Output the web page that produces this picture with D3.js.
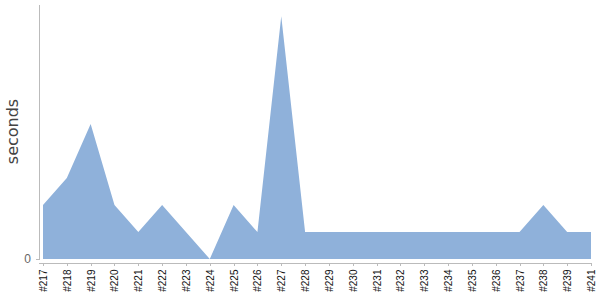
<!DOCTYPE html>
<html>
<head>
<meta charset="utf-8">
<script src="https://cdn.jsdelivr.net/npm/d3@7"></script>
<style>
  body { margin: 0; background: #fff; }
  svg { display: block; font-family: "DejaVu Sans", sans-serif; }
  .axis path, .axis line { stroke: #bbb; shape-rendering: crispEdges; }
</style>
</head>
<body>
<div class="chart"></div>
<script>
const builds = ["#217", "#218", "#219", "#220", "#221", "#222", "#223", "#224",
  "#225", "#226", "#227", "#228", "#229", "#230", "#231", "#232", "#233",
  "#234", "#235", "#236", "#237", "#238", "#239", "#241"];
const seconds = [2, 3, 5, 2, 1, 2, 1, 0, 2, 1, 9, 1, 1, 1, 1, 1, 1, 1, 1, 1, 1, 2, 1, 1];
const yTicks = [0];

const width = 600, height = 300;
const plotLeft = 39, plotRight = 591, plotTop = 4, plotBottom = 259;

const data = builds.map((b, i) => ({ build: b, value: seconds[i] }));

const svg = d3.select(".chart").append("svg")
  .attr("width", width)
  .attr("height", height);

const x = d3.scalePoint()
  .domain(builds)
  .range([plotLeft + 4, plotRight]);

const y = d3.scaleLinear()
  .domain([0, d3.max(seconds) * 1.05])
  .range([plotBottom, plotTop]);

const area = d3.area()
  .x(d => x(d.build))
  .y0(y(0))
  .y1(d => y(d.value));

svg.append("path")
  .datum(data)
  .attr("fill", "#8fb1da")
  .attr("d", area);

// y axis
const yAxis = svg.append("g")
  .attr("class", "axis")
  .attr("transform", "translate(" + plotLeft + ",0)")
  .call(d3.axisLeft(y).tickValues(yTicks).tickSize(3).tickSizeOuter(0).tickPadding(5));
yAxis.selectAll("text")
  .attr("fill", "#666")
  .style("font-size", "12px");

// x axis, sits a few px under the baseline
const xAxis = svg.append("g")
  .attr("class", "axis")
  .attr("transform", "translate(0," + (plotBottom + 4) + ")")
  .call(d3.axisBottom(x).tickSize(3).tickSizeOuter(0));
xAxis.select(".domain").attr("d", "M" + plotLeft + ",0.5H" + plotRight);
xAxis.selectAll("text")
  .attr("fill", "#111")
  .style("font-size", "10px")
  .attr("text-anchor", "end")
  .attr("transform", "rotate(-90)")
  .attr("x", -6.5)
  .attr("y", 0)
  .attr("dy", "0.35em");

svg.append("text")
  .attr("transform", "translate(17.5," + ((plotTop + plotBottom) / 2) + ") rotate(-90)")
  .attr("text-anchor", "middle")
  .attr("fill", "#444")
  .style("font-size", "16px")
  .text("seconds");
</script>
</body>
</html>
